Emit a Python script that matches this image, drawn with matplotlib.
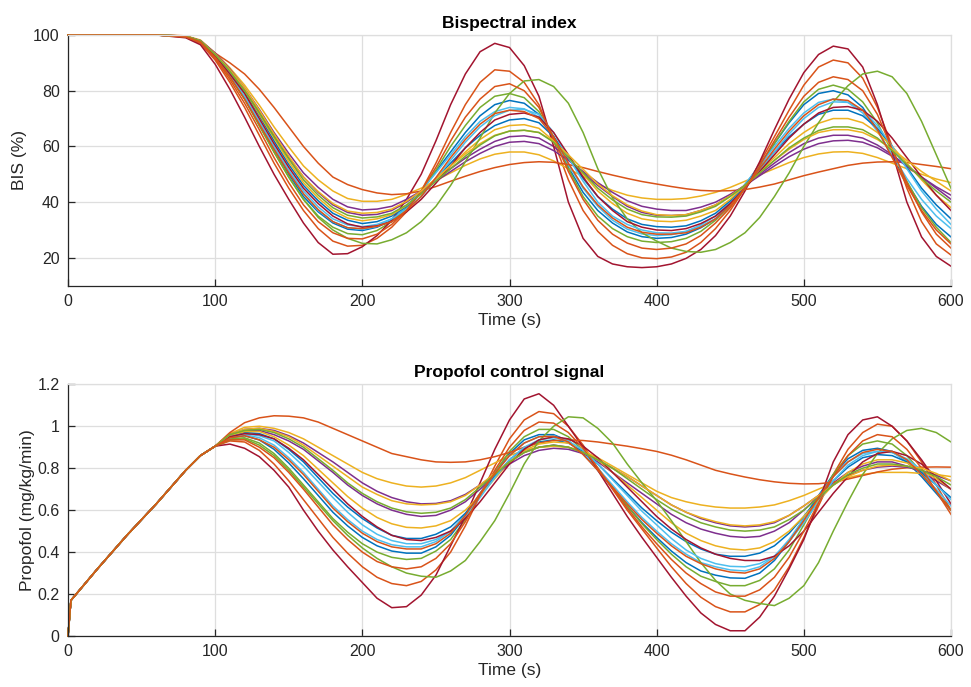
import numpy as np
import matplotlib
matplotlib.use("Agg")
import matplotlib.pyplot as plt

plt.rcParams['font.family'] = ['Liberation Sans', 'DejaVu Sans']

# MATLAB default line colours
blue = '#0072BD'
orange = '#D95319'
yellow = '#EDB120'
purple = '#7E2F8E'
green = '#77AC30'
ltblue = '#4DBEEE'
dkred = '#A2142F'

# ---- BIS (%) ----
t_bis_start = [0, 20, 40, 60]
bis_start = [100, 100, 100, 100]
t_bis = np.arange(80, 601, 10)  # 80, 90, ..., 600

bis_blue_a = [99.4, 97.5, 92, 85.5, 77.5, 68.5, 59, 50, 42, 36.5,
              32.5, 30.3, 29.8, 31, 33.5, 38, 44, 51, 58, 65,
              71, 75, 76.5, 75.5, 71.5, 63, 52.5, 43.5, 37, 32.5,
              29.3, 27.6, 27, 27.3, 28.5, 30.8, 34, 39.5, 46, 53.5,
              61, 68.5, 75, 79, 80, 78.5, 74, 66, 56.5, 47,
              38.5, 32, 27.5]
bis_orange_a = [99.2, 97, 91, 83, 74, 64, 54, 45, 37, 30.5,
                26, 24.2, 24.5, 27, 31, 36.5, 44, 54, 65, 75,
                83, 87.5, 87, 83, 75, 62, 48, 37, 29.5, 24.5,
                21.5, 20, 19.7, 20.3, 22, 25.5, 30.5, 37, 45, 54,
                63.5, 73, 82, 88.5, 91, 90, 84.5, 74, 60, 45,
                33, 25, 21]
bis_yellow_a = [99.7, 98.2, 93.5, 88.2, 82, 74.8, 67, 59.8, 53, 48,
                44, 41.3, 40.3, 40.3, 41, 42.8, 45, 47.8, 50.5, 53.2,
                55.5, 57.2, 58, 58, 57, 54.8, 52, 49.2, 46.5, 44.2,
                42.5, 41.5, 41, 41, 41.3, 42.2, 43.5, 45.3, 47.5, 49.8,
                52, 54.2, 56, 57.3, 58, 58.1, 57.5, 56, 54, 52,
                50, 48.3, 47]
bis_purple_a = [99.6, 97.9, 93, 87.3, 80.5, 72.5, 64, 56, 49, 43.5,
                39, 36.3, 35.3, 35.6, 37, 40, 43.5, 47.8, 52, 55.8,
                59, 61.8, 63.5, 63.8, 63, 60, 55.5, 50.5, 46, 42,
                38.5, 36.3, 35.3, 35.2, 35.5, 37, 39, 42.3, 46, 50,
                54, 57.8, 61, 63, 64, 64, 63, 60.5, 57, 53,
                49, 45, 41]
bis_green_a = [99.4, 97.5, 92, 85, 77, 67.5, 58, 49, 41, 35,
               31, 28.7, 28.3, 29.8, 33, 37.8, 44, 51.5, 60, 67.5,
               74, 78, 79, 77.5, 72.5, 63.5, 52, 42, 35, 30.5,
               27.6, 26, 25.5, 25.8, 27, 29.5, 33.5, 38.5, 45, 52.5,
               61, 69, 76, 80.5, 82, 80.5, 76, 68.5, 58, 47.5,
               38, 31, 25.5]
bis_ltblue_a = [99.4, 97.5, 92, 85.5, 77.5, 68.5, 59.5, 51, 43, 37,
                33, 30.8, 30.2, 31.3, 34, 38.5, 44, 50.5, 57, 63.5,
                69, 72.5, 74, 73.5, 70.5, 63.5, 53.5, 45, 38.5, 33.5,
                30.3, 28.6, 28, 28.3, 29.5, 31.8, 35, 40, 46.5, 53,
                60, 66.5, 72, 75.8, 77, 75.8, 72, 65.5, 57, 48.5,
                41, 35, 30.5]
bis_dkred_a = [99, 96.5, 89.5, 80.5, 70.5, 60, 50, 41, 32.5, 25.5,
               21.3, 21.5, 24, 28, 33.5, 41, 50, 62, 75, 86,
               94, 97, 95.5, 89, 78, 60, 40, 27, 20.5, 17.8,
               16.8, 16.5, 16.8, 17.8, 19.8, 23, 28, 35, 44, 54.5,
               66, 77, 86.5, 93, 96, 95, 88.5, 75, 58, 40,
               27.5, 20.5, 17]
bis_blue_b = [99.5, 97.8, 93, 86.8, 79.5, 71, 62, 53.5, 46, 40.5,
              36, 33.5, 32.3, 33, 35, 38.5, 43, 48.5, 54, 59.5,
              64, 67.5, 69.5, 70, 68.5, 63.5, 56, 48.5, 42, 37.5,
              34, 32, 31.2, 31, 31.5, 33.3, 36, 40.5, 46, 52,
              58, 63.5, 68, 71.5, 73, 73, 71, 66.5, 60, 52.5,
              45, 39, 34]
bis_orange_b = [99.7, 97.8, 93.5, 90, 86, 80.5, 74, 67, 60, 54,
                49, 46.3, 44.5, 43.3, 42.7, 43, 44, 45.6, 47.5, 49.3,
                51, 52.4, 53.5, 54.2, 54.5, 54.3, 53.5, 52.4, 51, 49.7,
                48.5, 47.4, 46.5, 45.6, 44.8, 44.2, 44, 44.1, 44.5, 45.4,
                46.5, 48, 49.5, 50.8, 52, 53.2, 54, 54.4, 54.5, 54.2,
                53.5, 52.8, 52]
bis_yellow_b = [99.5, 97.8, 93, 87, 80, 71.5, 63, 54.5, 47, 41.5,
                37, 34.3, 33.3, 34, 35.5, 38.8, 43, 48, 53, 58,
                62.5, 66, 67.5, 67.8, 66.5, 62, 56, 50, 44, 39.5,
                36, 34, 33.2, 33, 33.5, 35, 37, 41, 46, 51,
                56, 61, 65, 68.3, 70, 70, 68.5, 65, 60, 54,
                48, 42.5, 38]
bis_purple_b = [99.6, 98, 93.5, 87.8, 81, 73.3, 65, 57.5, 50.5, 45.3,
                41, 38.3, 37.2, 37.5, 38.5, 41, 44, 47.5, 51, 54.5,
                57.5, 60, 61.5, 61.8, 61, 58.5, 55, 51, 47, 43.5,
                40.5, 38.5, 37.5, 37, 37, 38.2, 40, 42.8, 46, 49.5,
                53, 56.3, 59, 61, 62, 62.2, 61.5, 59.5, 56.5, 53,
                49, 45.5, 42.5]
bis_green_b = [99.4, 97.5, 92, 85, 77, 67.5, 58, 49, 41, 34.5,
               30, 27, 25.2, 25, 26.5, 29, 33, 38.5, 46, 54.5,
               63, 72, 79, 83.5, 84, 81.5, 75.5, 65, 52, 41.5,
               34, 29, 26, 23.5, 22.3, 22, 23, 25.5, 29, 34.5,
               42, 50.5, 60, 68.5, 76, 81.8, 86, 87, 85, 79,
               69, 57, 45]
bis_ltblue_b = [99.5, 97.8, 92.5, 86, 78, 69, 60, 51.5, 44, 38.3,
                34, 31.8, 31.2, 32, 34, 37.5, 42, 48.3, 55, 61.5,
                67, 71, 73, 73.3, 71.5, 65, 56, 47.5, 40, 35,
                32, 30, 29, 28.9, 29.5, 31.3, 34, 38.8, 45, 51.5,
                58, 64.5, 70, 74, 76, 75.8, 73, 67.5, 60, 52,
                44, 37.5, 32]
bis_dkred_b = [99.5, 97.8, 92.5, 86, 79, 70, 61, 52.5, 45, 39.5,
               35, 32.2, 31, 31.5, 33, 36.5, 41, 46.8, 53, 59.5,
               65, 69.5, 71.5, 72, 70.5, 65, 57, 49, 42, 37,
               33, 31, 30, 29.8, 30.5, 32.3, 35, 39.5, 45, 51,
               57, 63, 68, 72, 74, 74.3, 73, 69, 63, 56,
               49, 42.5, 37]
bis_orange_c = [99.3, 97.3, 91.5, 84, 75.5, 66, 56, 47, 39, 33,
                29, 27, 26.8, 28.5, 32, 37, 44, 52.5, 62, 70.5,
                77, 81.5, 82.5, 80, 74, 63, 51, 41, 33.5, 28.5,
                25.3, 23.5, 23, 23.5, 25, 28, 32.5, 38, 45, 53,
                62, 70.5, 78, 83, 85, 84, 80, 71.5, 59, 47,
                36.5, 28.5, 23.5]
bis_yellow_c = [99.6, 97.9, 93.2, 87.5, 81, 73, 64.5, 56.5, 49, 43.8,
                39.5, 36.8, 36, 36.3, 37.5, 40.3, 44, 48.5, 53, 57.3,
                61, 64, 65.5, 65.8, 65, 61.8, 57, 51.8, 46.5, 42.3,
                39, 36.8, 35.5, 35.2, 35.5, 37, 39, 42.3, 46, 50.5,
                55, 59, 62.5, 65, 66, 66, 65, 62.5, 59, 55,
                51, 47.5, 44]
bis_green_c = [99.6, 97.9, 93, 87, 80, 72, 63.5, 55.5, 48, 42.5,
               38, 35.3, 34.3, 34.7, 36, 39, 43, 47.5, 52, 56.5,
               60.5, 63.8, 65.5, 65.8, 65, 61.5, 56, 50.5, 45, 40.8,
               37.5, 35.5, 34.7, 34.6, 35, 36.5, 38.5, 42, 46, 50.5,
               55, 59.5, 63, 65.7, 67, 67, 66, 63, 58.5, 53.5,
               48.5, 44, 40]
bis_orange_d = [99.4, 97.5, 92, 85, 77, 68, 59, 50.5, 43, 37.3,
                33, 30.8, 30.5, 31.3, 33, 37, 42, 48.8, 56, 62.5,
                68, 71.8, 73, 72.5, 70, 63.5, 54, 45.5, 39, 34.3,
                31, 29.2, 28.5, 28.5, 29, 31, 34, 38.8, 45, 52,
                59, 65.5, 71, 75, 77, 76.5, 73, 66, 56, 46,
                37, 30, 25]

# ---- Propofol (mg/kg/min) ----
t_prop_start = [0, 2, 20, 40, 60, 80, 90]
prop_start = [0, 0.17, 0.32, 0.48, 0.63, 0.79, 0.86]
t_prop = np.arange(100, 601, 10)  # 100, 110, ..., 600

prop_blue_a = [0.905, 0.945, 0.955, 0.935, 0.89, 0.825, 0.75, 0.67, 0.59, 0.525,
               0.47, 0.43, 0.405, 0.395, 0.395, 0.425, 0.48, 0.57, 0.68, 0.78,
               0.87, 0.935, 0.96, 0.96, 0.93, 0.87, 0.79, 0.705, 0.62, 0.54,
               0.47, 0.405, 0.35, 0.31, 0.29, 0.277, 0.275, 0.3, 0.36, 0.45,
               0.56, 0.67, 0.77, 0.845, 0.885, 0.895, 0.88, 0.83, 0.76, 0.68,
               0.6]
prop_orange_a = [0.905, 0.93, 0.925, 0.885, 0.82, 0.74, 0.65, 0.56, 0.47, 0.395,
                 0.33, 0.28, 0.25, 0.24, 0.26, 0.315, 0.4, 0.525, 0.67, 0.81,
                 0.94, 1.03, 1.07, 1.06, 1.0, 0.91, 0.8, 0.7, 0.6, 0.51,
                 0.42, 0.33, 0.25, 0.185, 0.14, 0.115, 0.115, 0.15, 0.22, 0.33,
                 0.47, 0.62, 0.77, 0.89, 0.97, 1.01, 1.0, 0.93, 0.83, 0.72,
                 0.6]
prop_yellow_a = [0.905, 0.965, 0.995, 1.0, 0.99, 0.97, 0.94, 0.9, 0.86, 0.82,
                 0.78, 0.75, 0.73, 0.715, 0.71, 0.715, 0.73, 0.755, 0.79, 0.825,
                 0.86, 0.885, 0.9, 0.905, 0.9, 0.88, 0.85, 0.81, 0.77, 0.73,
                 0.69, 0.66, 0.64, 0.625, 0.615, 0.61, 0.61, 0.615, 0.625, 0.645,
                 0.67, 0.7, 0.73, 0.755, 0.77, 0.78, 0.78, 0.78, 0.775, 0.77,
                 0.76]
prop_purple_a = [0.905, 0.96, 0.98, 0.98, 0.96, 0.93, 0.89, 0.835, 0.78, 0.72,
                 0.67, 0.63, 0.6, 0.58, 0.57, 0.575, 0.6, 0.64, 0.7, 0.765,
                 0.83, 0.875, 0.9, 0.91, 0.9, 0.87, 0.83, 0.78, 0.73, 0.68,
                 0.63, 0.58, 0.54, 0.51, 0.49, 0.475, 0.47, 0.475, 0.5, 0.54,
                 0.6, 0.665, 0.73, 0.78, 0.81, 0.83, 0.83, 0.81, 0.78, 0.74,
                 0.7]
prop_green_a = [0.905, 0.94, 0.945, 0.92, 0.87, 0.8, 0.72, 0.64, 0.56, 0.495,
                0.44, 0.4, 0.375, 0.365, 0.37, 0.405, 0.46, 0.555, 0.67, 0.78,
                0.88, 0.95, 0.985, 0.985, 0.95, 0.885, 0.8, 0.71, 0.62, 0.535,
                0.46, 0.39, 0.33, 0.285, 0.26, 0.24, 0.24, 0.265, 0.32, 0.41,
                0.53, 0.655, 0.77, 0.86, 0.915, 0.93, 0.915, 0.86, 0.78, 0.69,
                0.6]
prop_ltblue_a = [0.905, 0.945, 0.96, 0.945, 0.91, 0.85, 0.78, 0.7, 0.62, 0.555,
                 0.5, 0.46, 0.435, 0.425, 0.425, 0.45, 0.5, 0.58, 0.68, 0.775,
                 0.86, 0.92, 0.95, 0.955, 0.93, 0.875, 0.8, 0.72, 0.64, 0.565,
                 0.5, 0.44, 0.39, 0.35, 0.33, 0.315, 0.31, 0.33, 0.38, 0.46,
                 0.56, 0.665, 0.76, 0.83, 0.87, 0.88, 0.875, 0.835, 0.77, 0.7,
                 0.62]
prop_dkred_a = [0.905, 0.915, 0.895, 0.855, 0.79, 0.71, 0.6, 0.5, 0.41, 0.33,
                0.255, 0.18, 0.135, 0.14, 0.195, 0.29, 0.43, 0.57, 0.73, 0.89,
                1.03, 1.13, 1.155, 1.1, 1.0, 0.9, 0.79, 0.68, 0.57, 0.47,
                0.375, 0.28, 0.19, 0.11, 0.055, 0.025, 0.025, 0.09, 0.19, 0.32,
                0.46, 0.64, 0.83, 0.96, 1.03, 1.045, 1.0, 0.93, 0.84, 0.74,
                0.63]
prop_blue_b = [0.905, 0.95, 0.97, 0.965, 0.94, 0.89, 0.83, 0.755, 0.68, 0.615,
               0.56, 0.515, 0.48, 0.465, 0.465, 0.485, 0.52, 0.585, 0.67, 0.76,
               0.84, 0.895, 0.925, 0.935, 0.92, 0.88, 0.82, 0.75, 0.68, 0.61,
               0.55, 0.495, 0.45, 0.415, 0.39, 0.38, 0.38, 0.395, 0.43, 0.49,
               0.57, 0.66, 0.74, 0.805, 0.85, 0.865, 0.86, 0.83, 0.78, 0.72,
               0.66]
prop_orange_b = [0.905, 0.97, 1.017, 1.04, 1.05, 1.048, 1.04, 1.02, 0.99, 0.96,
                 0.93, 0.9, 0.87, 0.855, 0.84, 0.83, 0.828, 0.83, 0.84, 0.855,
                 0.875, 0.9, 0.92, 0.932, 0.935, 0.932, 0.925, 0.915, 0.905, 0.893,
                 0.88, 0.862, 0.84, 0.815, 0.79, 0.773, 0.758, 0.745, 0.735, 0.728,
                 0.725, 0.726, 0.733, 0.748, 0.765, 0.782, 0.795, 0.802, 0.805, 0.806,
                 0.805]
prop_yellow_b = [0.905, 0.955, 0.975, 0.975, 0.95, 0.91, 0.86, 0.795, 0.73, 0.665,
                 0.61, 0.565, 0.535, 0.518, 0.515, 0.525, 0.55, 0.6, 0.67, 0.75,
                 0.83, 0.885, 0.915, 0.925, 0.92, 0.89, 0.84, 0.78, 0.72, 0.66,
                 0.6, 0.54, 0.49, 0.455, 0.43, 0.415, 0.41, 0.42, 0.45, 0.5,
                 0.57, 0.645, 0.72, 0.78, 0.82, 0.84, 0.84, 0.825, 0.79, 0.75,
                 0.7]
prop_purple_b = [0.905, 0.96, 0.985, 0.99, 0.98, 0.955, 0.92, 0.875, 0.83, 0.78,
                 0.73, 0.69, 0.66, 0.64, 0.63, 0.632, 0.645, 0.675, 0.72, 0.77,
                 0.82, 0.86, 0.885, 0.895, 0.89, 0.87, 0.84, 0.8, 0.76, 0.715,
                 0.67, 0.625, 0.59, 0.56, 0.54, 0.525, 0.52, 0.525, 0.54, 0.575,
                 0.62, 0.67, 0.72, 0.765, 0.79, 0.805, 0.81, 0.805, 0.79, 0.765,
                 0.74]
prop_green_b = [0.905, 0.935, 0.94, 0.91, 0.86, 0.79, 0.71, 0.63, 0.55, 0.48,
                0.42, 0.37, 0.33, 0.3, 0.285, 0.28, 0.31, 0.36, 0.45, 0.55,
                0.68, 0.82, 0.93, 1.0, 1.045, 1.04, 0.99, 0.92, 0.82, 0.73,
                0.645, 0.55, 0.45, 0.35, 0.265, 0.2, 0.17, 0.155, 0.145, 0.18,
                0.24, 0.35, 0.5, 0.64, 0.77, 0.87, 0.94, 0.98, 0.99, 0.97,
                0.925]
prop_ltblue_b = [0.905, 0.95, 0.965, 0.955, 0.93, 0.875, 0.81, 0.735, 0.66, 0.59,
                 0.53, 0.485, 0.455, 0.44, 0.44, 0.46, 0.5, 0.57, 0.66, 0.755,
                 0.84, 0.9, 0.935, 0.945, 0.93, 0.885, 0.82, 0.745, 0.67, 0.595,
                 0.53, 0.465, 0.41, 0.37, 0.345, 0.332, 0.33, 0.345, 0.38, 0.45,
                 0.54, 0.64, 0.74, 0.815, 0.86, 0.88, 0.875, 0.845, 0.79, 0.72,
                 0.65]
prop_dkred_b = [0.905, 0.95, 0.965, 0.96, 0.94, 0.895, 0.84, 0.77, 0.7, 0.63,
                0.57, 0.52, 0.48, 0.46, 0.455, 0.47, 0.5, 0.56, 0.64, 0.73,
                0.82, 0.89, 0.935, 0.95, 0.94, 0.905, 0.85, 0.78, 0.71, 0.64,
                0.57, 0.51, 0.46, 0.42, 0.39, 0.37, 0.36, 0.36, 0.38, 0.43,
                0.5, 0.59, 0.68, 0.76, 0.83, 0.87, 0.88, 0.86, 0.82, 0.76,
                0.7]
prop_orange_c = [0.905, 0.935, 0.935, 0.9, 0.85, 0.78, 0.7, 0.615, 0.53, 0.46,
                 0.4, 0.355, 0.33, 0.32, 0.33, 0.37, 0.44, 0.545, 0.67, 0.79,
                 0.9, 0.98, 1.02, 1.015, 0.97, 0.895, 0.8, 0.705, 0.61, 0.52,
                 0.44, 0.365, 0.3, 0.25, 0.21, 0.19, 0.19, 0.22, 0.28, 0.375,
                 0.5, 0.635, 0.76, 0.86, 0.93, 0.96, 0.95, 0.89, 0.8, 0.69,
                 0.58]
prop_yellow_c = [0.905, 0.96, 0.985, 0.99, 0.975, 0.95, 0.91, 0.86, 0.81, 0.76,
                 0.71, 0.675, 0.645, 0.63, 0.625, 0.628, 0.64, 0.67, 0.72, 0.775,
                 0.83, 0.875, 0.9, 0.905, 0.9, 0.875, 0.84, 0.8, 0.76, 0.715,
                 0.67, 0.625, 0.59, 0.565, 0.545, 0.53, 0.525, 0.53, 0.545, 0.575,
                 0.62, 0.67, 0.72, 0.76, 0.79, 0.81, 0.815, 0.81, 0.8, 0.775,
                 0.74]
prop_green_c = [0.905, 0.96, 0.98, 0.985, 0.97, 0.94, 0.9, 0.845, 0.79, 0.73,
                0.68, 0.64, 0.61, 0.592, 0.585, 0.59, 0.61, 0.65, 0.71, 0.77,
                0.83, 0.875, 0.9, 0.91, 0.9, 0.875, 0.84, 0.8, 0.75, 0.7,
                0.65, 0.605, 0.57, 0.54, 0.52, 0.505, 0.5, 0.505, 0.52, 0.555,
                0.6, 0.66, 0.72, 0.77, 0.8, 0.82, 0.82, 0.81, 0.79, 0.76,
                0.72]
prop_orange_d = [0.905, 0.945, 0.955, 0.935, 0.9, 0.84, 0.77, 0.69, 0.61, 0.545,
                 0.49, 0.45, 0.425, 0.415, 0.415, 0.44, 0.49, 0.575, 0.68, 0.775,
                 0.86, 0.92, 0.95, 0.952, 0.925, 0.865, 0.79, 0.71, 0.63, 0.555,
                 0.49, 0.43, 0.38, 0.345, 0.32, 0.305, 0.3, 0.32, 0.37, 0.45,
                 0.55, 0.66, 0.76, 0.83, 0.875, 0.89, 0.88, 0.84, 0.77, 0.69,
                 0.6]

runs = [
    (blue, bis_blue_a, prop_blue_a),
    (orange, bis_orange_a, prop_orange_a),
    (yellow, bis_yellow_a, prop_yellow_a),
    (purple, bis_purple_a, prop_purple_a),
    (green, bis_green_a, prop_green_a),
    (ltblue, bis_ltblue_a, prop_ltblue_a),
    (dkred, bis_dkred_a, prop_dkred_a),
    (blue, bis_blue_b, prop_blue_b),
    (orange, bis_orange_b, prop_orange_b),
    (yellow, bis_yellow_b, prop_yellow_b),
    (purple, bis_purple_b, prop_purple_b),
    (green, bis_green_b, prop_green_b),
    (ltblue, bis_ltblue_b, prop_ltblue_b),
    (dkred, bis_dkred_b, prop_dkred_b),
    (orange, bis_orange_c, prop_orange_c),
    (yellow, bis_yellow_c, prop_yellow_c),
    (green, bis_green_c, prop_green_c),
    (orange, bis_orange_d, prop_orange_d),
]

fig = plt.figure(figsize=(9.71, 6.87), dpi=100)
ax1 = fig.add_axes([68/971, 1 - 285.7/687, 883/971, 250.7/687])
ax2 = fig.add_axes([68/971, 1 - 636/687, 883/971, 251.7/687])

for col, b, p in runs:
    ax1.plot(np.concatenate([t_bis_start, t_bis]), np.concatenate([bis_start, b]),
             color=col, lw=1.1, clip_on=False)
    ax2.plot(np.concatenate([t_prop_start, t_prop]), np.concatenate([prop_start, p]),
             color=col, lw=1.1, clip_on=False)


def style(ax):
    ax.grid(True, color='#dedede', lw=0.9)
    ax.set_axisbelow(True)
    for s in ['top', 'right']:
        ax.spines[s].set_color('#dedede')
        ax.spines[s].set_linewidth(0.9)
    for s in ['left', 'bottom']:
        ax.spines[s].set_color('#262626')
        ax.spines[s].set_linewidth(0.9)
    ax.tick_params(direction='in', length=5, width=0.9, color='#262626', labelcolor='#262626',
                   labelsize=11.5, top=False, right=False, pad=6)
    ax.set_xlim(0, 600)
    ax.set_xticks([0, 100, 200, 300, 400, 500, 600])
    ax.set_xlabel('Time (s)', fontsize=12.5, color='#262626', labelpad=3)


style(ax1)
ax1.set_ylim(10, 100)
ax1.set_yticks([20, 40, 60, 80, 100])
ax1.set_ylabel('BIS (%)', fontsize=12.5, color='#262626')
ax1.set_title('Bispectral index', fontsize=12.5, fontweight='bold', pad=5)

style(ax2)
ax2.set_ylim(0, 1.2)
ax2.set_yticks([0, 0.2, 0.4, 0.6, 0.8, 1.0, 1.2])
ax2.set_yticklabels(['0', '0.2', '0.4', '0.6', '0.8', '1', '1.2'])
ax2.set_ylabel('Propofol (mg/kg/min)', fontsize=12.5, color='#262626', labelpad=2)
ax2.set_title('Propofol control signal', fontsize=12.5, fontweight='bold', pad=5)

fig.savefig('out.png', dpi=100)
